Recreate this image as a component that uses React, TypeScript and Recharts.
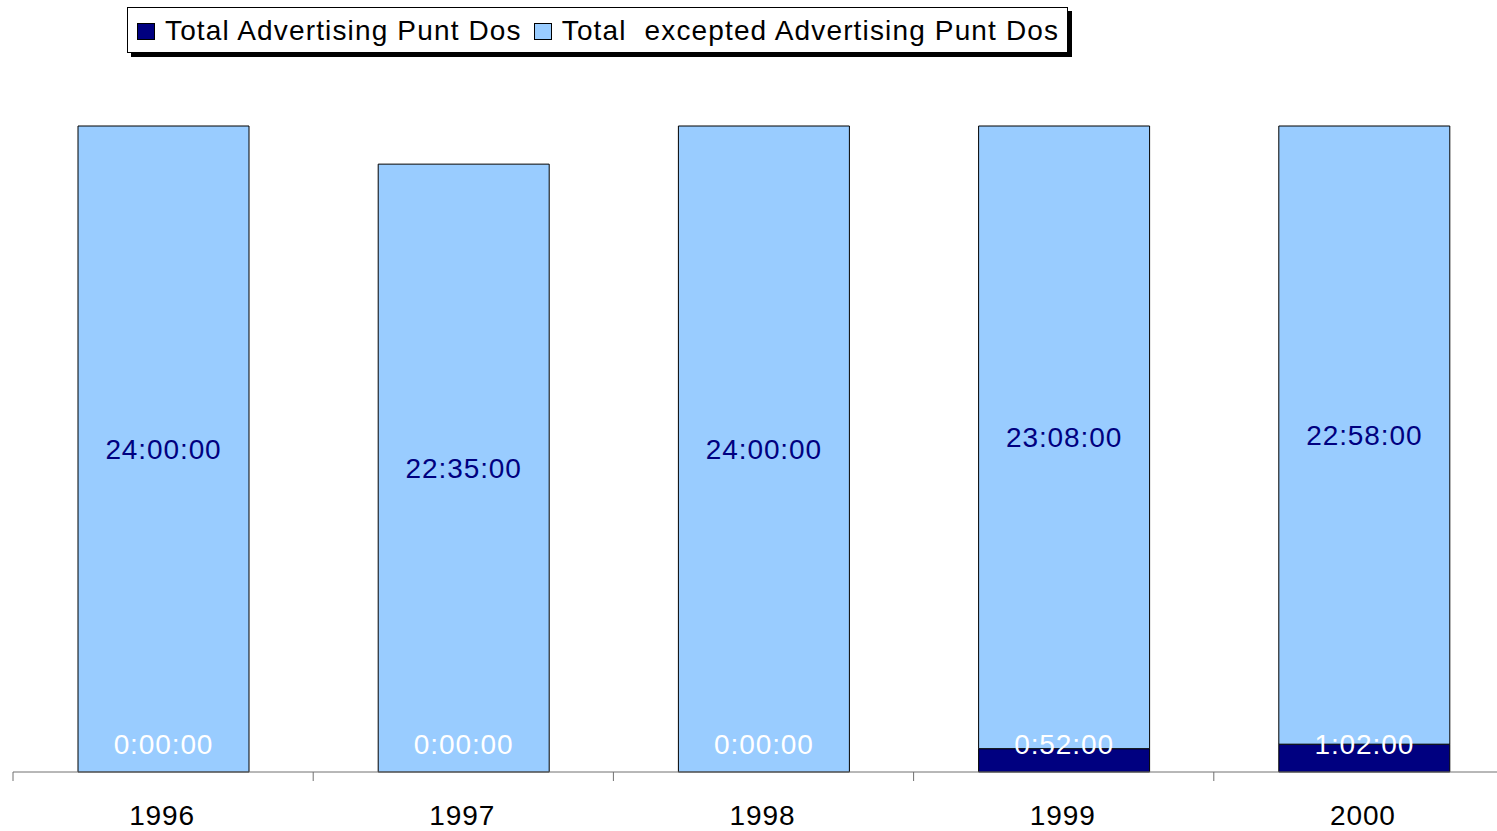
import React from "react";
import { BarChart, Bar, XAxis, YAxis, LabelList } from "recharts";

// data in minutes
const years = ["1996", "1997", "1998", "1999", "2000"];
const advertisingMinutes = [0, 0, 0, 52, 62];
const exceptedMinutes = [1440, 1355, 1440, 1388, 1378];

const COLORS = {
  advertising: "#000080",
  excepted: "#99CCFF",
  stroke: "#000000",
  axis: "#707070",
};

const FONT = "'Liberation Sans', Arial, Helvetica, sans-serif";
const CHART_W = 1514;
const CHART_H = 831;
const AXIS_H = 30;
const MARGIN = { top: 126, right: 0, bottom: 29, left: 13 };
const BAND = (CHART_W - MARGIN.left - MARGIN.right) / years.length;
const BASELINE = CHART_H - MARGIN.bottom - AXIS_H;

const data = years.map((year, i) => ({
  year,
  advertising: advertisingMinutes[i],
  excepted: exceptedMinutes[i],
}));

const fmt = (m: number) => {
  const h = Math.floor(m / 60);
  const mm = m % 60;
  return `${h}:${String(mm).padStart(2, "0")}:00`;
};

function YearTick(props: any) {
  const { x, y, payload } = props;
  const left = x - BAND / 2;
  return (
    <g>
      <line x1={left} x2={left} y1={y} y2={y + 9} stroke={COLORS.axis} />
      <text
        x={x - 1}
        y={y + 53}
        textAnchor="middle"
        fontSize={28}
        fontFamily={FONT}
        letterSpacing={0.9}
        fill="#000"
      >
        {payload.value}
      </text>
    </g>
  );
}

// advertising label sits just above the axis, drawn on top of both segments
function BaseLabel(props: any) {
  const { x, width, value } = props;
  return (
    <text
      x={x + width / 2}
      y={BASELINE - 28}
      textAnchor="middle"
      dominantBaseline="central"
      fontSize={28}
      fontFamily={FONT}
      letterSpacing={0.9}
      fill="#ffffff"
    >
      {fmt(value)}
    </text>
  );
}

function CenterLabel(props: any) {
  const { x, y, width, height, value } = props;
  return (
    <text
      x={x + width / 2}
      y={y + height / 2}
      textAnchor="middle"
      dominantBaseline="central"
      fontSize={28}
      fontFamily={FONT}
      letterSpacing={0.9}
      fill={COLORS.advertising}
    >
      {fmt(value)}
    </text>
  );
}

function LegendBox() {
  const items = [
    { label: "Total Advertising Punt Dos", color: COLORS.advertising },
    { label: "Total  excepted Advertising Punt Dos", color: COLORS.excepted },
  ];
  return (
    <div
      style={{
        position: "absolute",
        left: 127,
        top: 7,
        display: "flex",
        alignItems: "center",
        width: 941,
        height: 46,
        boxSizing: "border-box",
        border: "1px solid #000",
        background: "#fff",
        boxShadow: "4px 4px 0 #000",
        paddingLeft: 9,
        paddingTop: 2,
        fontFamily: FONT,
        fontSize: 28,
        letterSpacing: 1.15,
        whiteSpace: "pre",
        color: "#000",
      }}
    >
      {items.map((it) => (
        <span key={it.label} style={{ display: "flex", alignItems: "center", marginRight: 12 }}>
          <span
            style={{
              display: "inline-block",
              width: 18,
              height: 17,
              background: it.color,
              border: "1px solid #000",
              boxSizing: "border-box",
              marginRight: 10,
            }}
          />
          {it.label}
        </span>
      ))}
    </div>
  );
}

export default function App() {
  return (
    <div
      style={{
        position: "absolute",
        left: 0,
        top: 0,
        width: 1497,
        height: 831,
        overflow: "hidden",
        background: "#fff",
      }}
    >
      <BarChart width={CHART_W} height={CHART_H} data={data} margin={MARGIN} barSize={171}>
        <XAxis
          dataKey="year"
          height={AXIS_H}
          tick={<YearTick />}
          tickLine={false}
          tickSize={0}
          tickMargin={0}
          axisLine={{ stroke: COLORS.axis, strokeWidth: 1 }}
          interval={0}
        />
        <YAxis hide domain={[0, 1440]} />
        <Bar
          dataKey="advertising"
          stackId="a"
          fill={COLORS.advertising}
          stroke={COLORS.stroke}
          strokeWidth={1}
          isAnimationActive={false}
        />
        <Bar
          dataKey="excepted"
          stackId="a"
          fill={COLORS.excepted}
          stroke={COLORS.stroke}
          strokeWidth={1}
          isAnimationActive={false}
        >
          <LabelList dataKey="excepted" content={<CenterLabel />} />
          <LabelList dataKey="advertising" content={<BaseLabel />} />
        </Bar>
      </BarChart>
      <LegendBox />
    </div>
  );
}
